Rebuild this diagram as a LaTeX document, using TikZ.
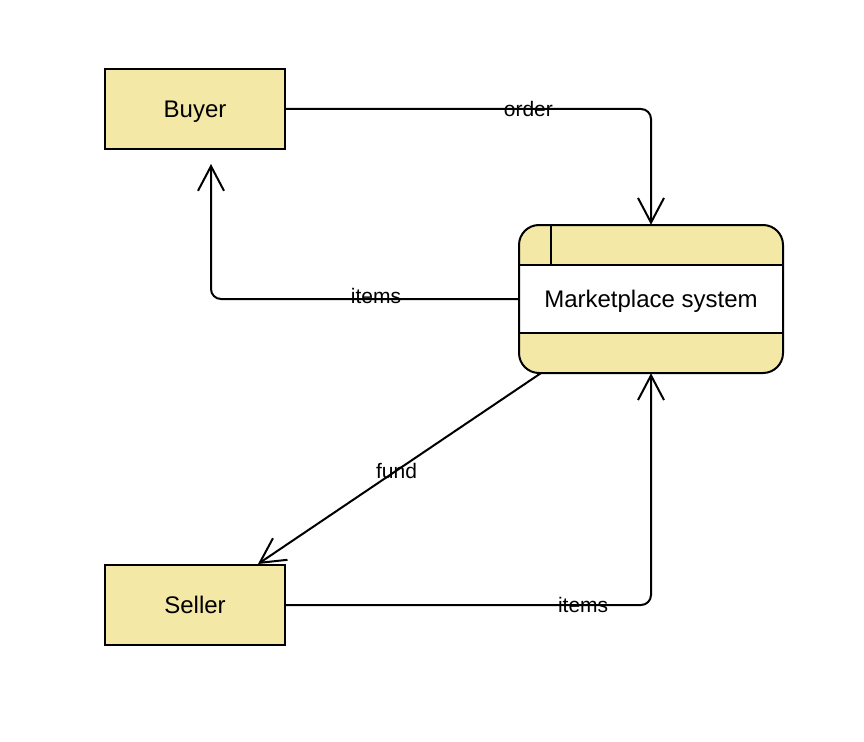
\documentclass[tikz,border=0pt]{standalone}
\usepackage{fontspec}
\setmainfont{Liberation Sans}
\usetikzlibrary{arrows.meta}
\definecolor{boxfill}{HTML}{F3E8A6}
\tikzset{
  entity/.style={draw,line width=1.5pt,fill=boxfill,minimum width=135pt,minimum height=60pt,font=\fontsize{18}{22}\selectfont,text height=12.9pt,text depth=0pt},
  flow/.style={line width=1.5pt,-{Straight Barb[length=18.5pt,width=19.5pt]},rounded corners=7.5pt},
  flowlabel/.style={font=\fontsize{15.75}{18}\selectfont,inner sep=0pt}
}

\begin{document}
\begin{tikzpicture}[x=0.75pt,y=-0.75pt]
	\useasboundingbox (0,0) rectangle (864,742);
	\newcommand{\R}{15pt}
	\node[entity] (buyer) at (195,109) {Buyer}; %buyer
	\node[entity] (seller) at (195,605) {Seller}; %seller
	% marketplace process
	\fill[boxfill,rounded corners=\R] (519,225) rectangle (783,373);
	\fill[white] (519,265) rectangle (783,333);
	\draw[line width=1.5pt] (519,265) -- (783,265) (519,333) -- (783,333) (551,225) -- (551,265);
	\draw[line width=1.5pt,rounded corners=\R] (519,225) rectangle (783,373);
	\node[minimum width=198pt,minimum height=111pt,font=\fontsize{18}{22}\selectfont,text height=12.9pt,text depth=0pt] (market) at (651,299) {Marketplace system};
	% flows
	\draw[flow] (buyer.east) -| (market.north) node[flowlabel,pos=0.332]{order};
	\draw[flow,shorten >=10.5pt] (market.west) -| ([xshift=12pt]buyer.south) node[flowlabel,pos=0.232,yshift=2pt]{items};
	\draw[flow] ([xshift=16.5pt]market.south west) -- ([xshift=-21pt]seller.north east) node[flowlabel,pos=0.51]{fund};
	\draw[flow] (seller.east) -| (market.south) node[flowlabel,pos=0.407]{items};
\end{tikzpicture}
\end{document}
